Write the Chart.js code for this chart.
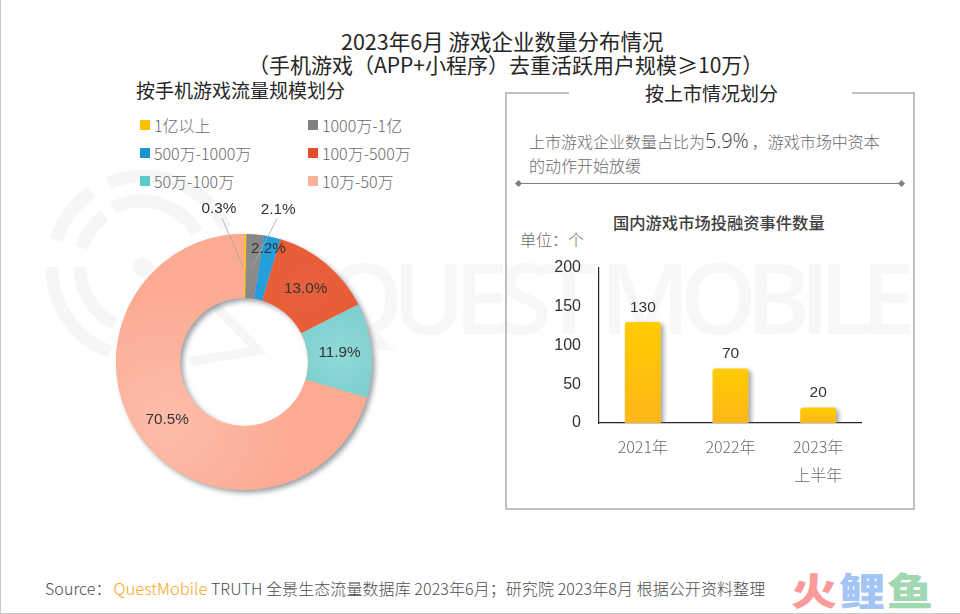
<!DOCTYPE html>
<html>
<head>
    <meta charset="utf-8">
    <title>2023年6月 游戏企业数量分布情况</title>
    <script src="https://cdn.jsdelivr.net/npm/chart.js"></script>
    <style>
        html, body {
            margin: 0;
            padding: 0;
            background: #ffffff;
        }
        #page {
            position: relative;
            width: 960px;
            height: 614px;
            overflow: hidden;
            box-shadow: inset 1px -1px 0 #c8c8c8;
            font-family: "Noto Sans CJK SC", "Liberation Sans", sans-serif;
            color: #404040;
        }
        .text {
            position: absolute;
            white-space: nowrap;
            line-height: 1;
        }
        canvas {
            position: absolute;
        }
        #watermark {
            position: absolute;
            left: 0;
            top: 0;
        }
        #legend .swatch {
            position: absolute;
            width: 10px;
            height: 10px;
        }
        #legend .text {
            font-size: 16px;
            font-weight: 300;
            color: #6a6a6a;
        }
        #panel {
            position: absolute;
            left: 505px;
            top: 92px;
            width: 410px;
            height: 418px;
            box-sizing: border-box;
            border: 2px solid #bfbfbf;
        }
        #panelGap {
            position: absolute;
            left: 569px;
            top: 88px;
            width: 283px;
            height: 10px;
            background: #ffffff;
        }
        #divider {
            position: absolute;
            left: 518px;
            top: 183px;
            width: 384px;
            height: 1px;
            background: #7f7f7f;
        }
        .diamond {
            position: absolute;
            top: 181px;
            width: 5px;
            height: 5px;
            background: #7f7f7f;
            transform: rotate(45deg);
        }
    </style>
</head>
<body>
<div id="page">
    <svg id="watermark" width="960" height="614" fill="none" stroke="#f6f6f6">
        <g stroke-width="13">
            <path d="M 56 240 A 91 91 0 0 1 92 192"/>
            <path d="M 108 183 A 91 91 0 0 1 226 229"/>
            <path d="M 52 267 A 91 91 0 0 0 110 352"/>
            <path d="M 82 248 A 64 64 0 0 1 105 215"/>
            <path d="M 113 208 A 64 64 0 0 1 197 233"/>
            <path d="M 80 267 A 64 64 0 0 0 115 324"/>
        </g>
        <circle cx="143" cy="267" r="10" fill="#f6f6f6" stroke="none"/>
        <path d="M 200 290 L 258 350 L 190 362" stroke-width="9"/>
        <text x="326" y="334" font-family="'Open Sans', sans-serif" font-size="98" font-weight="600" fill="#f7f7f7" stroke="none" textLength="590">QUEST MOBILE</text>
    </svg>

    <div class="text" style="left:341px;top:30px;font-size:21.5px;color:#262626">2023年6月 游戏企业数量分布情况</div>
    <div class="text" style="left:248px;top:54px;font-size:21px;color:#262626">（手机游戏（APP+小程序）去重活跃用户规模≥10万）</div>
    <div class="text" style="left:136px;top:80px;font-size:19px;color:#262626">按手机游戏流量规模划分</div>

    <div id="legend"></div>
    <canvas id="donutChart" width="300" height="360" style="left:94px;top:182px"></canvas>

    <div id="panel"></div>
    <div id="panelGap"></div>
    <div class="text" style="left:645px;top:83px;font-size:19px;color:#262626">按上市情况划分</div>
    <div class="text" style="left:529px;top:131px;font-size:16px;font-weight:300;color:#6a6a6a">上市游戏企业数量占比为<span style="font-size:20px;color:#404040;font-family:'Open Sans',sans-serif;margin-right:3px">5.9%</span>，游戏市场中资本</div>
    <div class="text" style="left:529px;top:157px;font-size:16px;font-weight:300;color:#6a6a6a">的动作开始放缓</div>
    <div id="divider"></div>
    <div class="diamond" style="left:516px"></div>
    <div class="diamond" style="left:899px"></div>
    <div class="text" style="left:613px;top:214px;font-size:16.3px;font-weight:500;color:#404040">国内游戏市场投融资事件数量</div>
    <div class="text" style="left:520px;top:231px;font-size:16px;font-weight:300;color:#6a6a6a">单位：个</div>
    <canvas id="barChart" width="332" height="258" style="left:530px;top:240px"></canvas>

    <div class="text" style="left:45px;top:580px;font-size:16px;font-weight:300;color:#4d4d4d;letter-spacing:0.08px">Source：<span style="color:#f5a623;font-size:16.5px;letter-spacing:0;margin-left:2px">QuestMobile</span> TRUTH 全景生态流量数据库 2023年6月；研究院 2023年8月 根据公开资料整理</div>
    <div class="text" style="left:791px;top:570px;font-size:46px;font-weight:900;letter-spacing:2px;transform:scaleY(0.82);transform-origin:top"><span style="color:#fb9a9a">火</span><span style="color:#a3c4f5">鲤</span><span style="color:#a0d8b0">鱼</span></div>
</div>

<script>
    const shareLabels = ['1亿以上', '1000万-1亿', '500万-1000万', '100万-500万', '50万-100万', '10万-50万'];
    const shareValues = [0.3, 2.2, 2.1, 13.0, 11.9, 70.5];
    const yearLabels = ['2021年', '2022年', ['2023年', '上半年']];
    const eventCounts = [130, 70, 20];
    const eventTicks = [0, 50, 100, 150, 200];

    const swatchColors = ['#ffc000', '#7f7f7f', '#1c94d2', '#e84c2b', '#5cc8c8', '#fbb09c'];
    const sliceColors = [
        ['#ffc61a', '#ffc000'],
        ['#8c8c8c', '#737373'],
        ['#25a0dc', '#1a90d0'],
        ['#e8603c', '#ec5430'],
        ['#8fd8d6', '#58c0c0'],
        ['#fdbcaa', '#fcab92']
    ];

    // legend, two columns
    const legendBox = document.getElementById('legend');
    shareLabels.forEach((label, i) => {
        const x = i % 2 === 0 ? 140 : 308;
        const y = 120 + Math.floor(i / 2) * 28;
        const sw = document.createElement('div');
        sw.className = 'swatch';
        sw.style.cssText = `left:${x}px;top:${y}px;background:${swatchColors[i]}`;
        legendBox.appendChild(sw);
        const tx = document.createElement('div');
        tx.className = 'text';
        tx.textContent = label;
        tx.style.cssText = `left:${x + 14}px;top:${y - 3}px`;
        legendBox.appendChild(tx);
    });

    // shadow under the whole ring, not between the slices
    const ringShadowPlugin = {
        id: 'ringShadow',
        beforeDatasetsDraw(chart) {
            const arc = chart.getDatasetMeta(0).data[0];
            const c = chart.ctx;
            c.save();
            c.shadowColor = 'rgba(90,100,110,0.6)';
            c.shadowBlur = 5;
            c.shadowOffsetX = 3;
            c.shadowOffsetY = 3;
            c.fillStyle = '#fcab92';
            c.beginPath();
            c.arc(arc.x, arc.y, arc.outerRadius, 0, Math.PI * 2);
            c.arc(arc.x, arc.y, arc.innerRadius, Math.PI * 2, 0, true);
            c.closePath();
            c.fill();
            c.restore();
        }
    };

    // percent labels, small slices get moved out with a leader line
    const labelShift = [[-26, -57], [16, -18], [13, -59], [0, 0], [0, 0], [0, 0]];
    const sliceLabelPlugin = {
        id: 'sliceLabels',
        afterDraw(chart) {
            const c = chart.ctx;
            const arcs = chart.getDatasetMeta(0).data;
            c.save();
            c.font = '15.3px "Liberation Sans", sans-serif';
            c.textAlign = 'center';
            c.textBaseline = 'middle';
            arcs.forEach((arc, i) => {
                const pos = arc.tooltipPosition();
                const x = pos.x + labelShift[i][0];
                const y = pos.y + labelShift[i][1];
                if (i === 0 || i === 2) {
                    // the 2.1% line ends on the grey slice in the original
                    const end = i === 0 ? { x: pos.x - 2, y: pos.y } : arcs[1].tooltipPosition();
                    c.strokeStyle = '#a6a6a6';
                    c.lineWidth = 0.8;
                    c.beginPath();
                    c.moveTo(x + (i === 0 ? 3 : -1), y + 9);
                    c.lineTo(end.x, end.y);
                    c.stroke();
                }
                c.fillStyle = '#333333';
                c.fillText(shareValues[i].toFixed(1) + '%', x, y);
            });
            c.restore();
        }
    };

    new Chart(document.getElementById('donutChart'), {
        type: 'doughnut',
        data: {
            labels: shareLabels,
            datasets: [{
                data: shareValues,
                borderWidth: 0,
                radius: 128,
                cutout: '50%',
                backgroundColor: ctx => {
                    const area = ctx.chart.chartArea;
                    if (!area) return sliceColors[ctx.dataIndex][1];
                    // glow sits on the middle of the slice
                    const before = shareValues.slice(0, ctx.dataIndex).reduce((a, b) => a + b, 0);
                    const angle = (before + shareValues[ctx.dataIndex] / 2) / 100 * Math.PI * 2;
                    const x = (area.left + area.right) / 2 + 96 * Math.sin(angle);
                    const y = (area.top + area.bottom) / 2 - 96 * Math.cos(angle);
                    const g = ctx.chart.ctx.createRadialGradient(x, y, 4, x, y, 160);
                    g.addColorStop(0, sliceColors[ctx.dataIndex][0]);
                    g.addColorStop(0.8, sliceColors[ctx.dataIndex][1]);
                    return g;
                }
            }]
        },
        options: {
            responsive: false,
            animation: false,
            layout: { padding: 0 },
            plugins: {
                legend: { display: false },
                tooltip: { enabled: false }
            }
        },
        plugins: [ringShadowPlugin, sliceLabelPlugin]
    });

    // soft shadow behind the bars
    const barShadowPlugin = {
        id: 'barShadow',
        beforeDatasetDraw(chart) {
            const c = chart.ctx;
            c.save();
            c.shadowColor = 'rgba(90,100,120,0.55)';
            c.shadowBlur = 4;
            c.shadowOffsetX = 3;
            c.shadowOffsetY = 2;
        },
        afterDatasetDraw(chart) {
            chart.ctx.restore();
        }
    };

    const valueLabelPlugin = {
        id: 'valueLabels',
        afterDraw(chart) {
            const c = chart.ctx;
            c.save();
            c.font = '15.5px "Liberation Sans", sans-serif';
            c.fillStyle = '#333333';
            c.textAlign = 'center';
            c.textBaseline = 'bottom';
            chart.getDatasetMeta(0).data.forEach((bar, i) => {
                c.fillText(eventCounts[i], bar.x, bar.y - 7);
            });
            c.restore();
        }
    };

    new Chart(document.getElementById('barChart'), {
        type: 'bar',
        data: {
            labels: yearLabels,
            datasets: [{
                data: eventCounts,
                barPercentage: 0.41,
                categoryPercentage: 1,
                borderSkipped: 'bottom',
                borderRadius: { topLeft: 3, topRight: 3 },
                backgroundColor: ctx => {
                    const chart = ctx.chart;
                    if (!chart.chartArea) return '#ffc000';
                    const scale = chart.scales.y;
                    const g = chart.ctx.createLinearGradient(0, scale.getPixelForValue(eventCounts[ctx.dataIndex]), 0, scale.getPixelForValue(0));
                    g.addColorStop(0, '#ffcc00');
                    g.addColorStop(1, '#ffb61a');
                    return g;
                }
            }]
        },
        options: {
            responsive: false,
            animation: false,
            layout: { padding: 0 },
            plugins: {
                legend: { display: false },
                tooltip: { enabled: false }
            },
            scales: {
                x: {
                    grid: { display: false, drawTicks: false },
                    border: { color: '#262626', width: 1.2 },
                    afterFit: axis => {
                        axis.height = 75;
                    },
                    ticks: {
                        color: '#6a6a6a',
                        padding: 10,
                        maxRotation: 0,
                        font: { size: 16, weight: 300, lineHeight: 1.75, family: '"Noto Sans CJK SC", sans-serif' }
                    }
                },
                y: {
                    min: 0,
                    max: 200,
                    grid: { display: false, drawTicks: false },
                    border: { color: '#262626', width: 1.2 },
                    afterBuildTicks: axis => {
                        axis.ticks = eventTicks.map(v => ({ value: v }));
                    },
                    afterFit: axis => {
                        axis.width = 69;
                    },
                    ticks: {
                        color: '#333333',
                        padding: 18,
                        font: { size: 16, family: '"Liberation Sans", sans-serif' }
                    }
                }
            }
        },
        plugins: [barShadowPlugin, valueLabelPlugin]
    });
</script>
</body>
</html>
